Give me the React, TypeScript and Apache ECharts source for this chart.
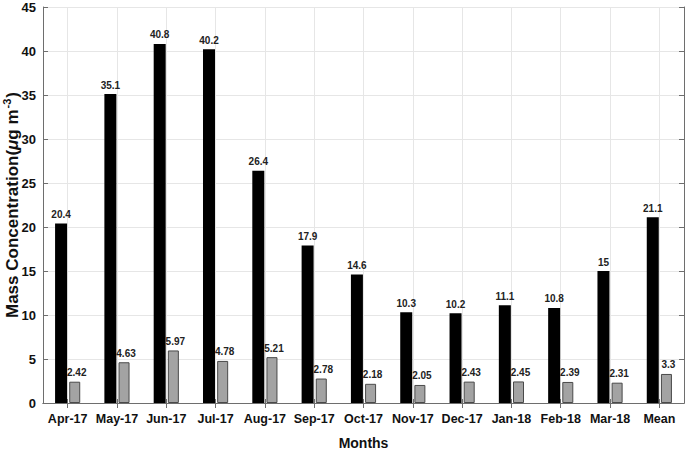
import React, { useEffect, useRef } from "react";
import * as echarts from "echarts";

const categories = ["Apr-17", "May-17", "Jun-17", "Jul-17", "Aug-17", "Sep-17", "Oct-17", "Nov-17", "Dec-17", "Jan-18", "Feb-18", "Mar-18", "Mean"];
const blackValues = [20.4, 35.1, 40.8, 40.2, 26.4, 17.9, 14.6, 10.3, 10.2, 11.1, 10.8, 15, 21.1];
const grayValues = [2.42, 4.63, 5.97, 4.78, 5.21, 2.78, 2.18, 2.05, 2.43, 2.45, 2.39, 2.31, 3.3];
const helperTicks = Array.from({ length: categories.length * 2 + 1 }, (_, i) => "h" + i);

const FONT = "'Liberation Sans Narrow', 'Liberation Sans', Arial, sans-serif";
const AXIS_COLOR = "#6e6e6e";
const GRID_COLOR = "#e6e6e6";

export default function App() {
  const ref = useRef<HTMLDivElement>(null);
  useEffect(() => {
    if (!ref.current) return;
    const chart = echarts.init(ref.current, undefined, { renderer: "svg" });
    const odd = (i: number) => i % 2 === 1;
    chart.setOption({
      animation: false,
      backgroundColor: "#fff",
      grid: { left: 43, right: 1, top: 7, bottom: 48, containLabel: false, outerBoundsMode: "none" },
      xAxis: [
        {
          type: "category",
          data: categories,
          position: "bottom",
          name: "Months",
          nameLocation: "middle",
          nameGap: 33,
          nameMoveOverlap: false,
          nameTextStyle: { fontFamily: FONT, fontWeight: "bold", fontSize: 14, color: "#111" },
          axisLine: { show: true, lineStyle: { color: AXIS_COLOR, width: 1 } },
          axisTick: { show: true, inside: true, alignWithLabel: true, length: 4, lineStyle: { color: AXIS_COLOR } },
          axisLabel: { interval: 0, fontFamily: FONT, fontWeight: "bold", fontSize: 12.5, color: "#111", margin: 9 },
          splitLine: { show: false },
        },
        {
          type: "category",
          data: helperTicks,
          position: "top",
          boundaryGap: false,
          axisLine: { show: true, lineStyle: { color: AXIS_COLOR, width: 1 } },
          axisTick: { show: true, inside: true, length: 5, interval: odd, lineStyle: { color: AXIS_COLOR } },
          axisLabel: { show: false },
          splitLine: { show: true, interval: odd, lineStyle: { color: GRID_COLOR, width: 1 } },
        },
      ],
      yAxis: [
        {
          type: "value",
          min: 0,
          max: 45,
          interval: 5,
          position: "left",
          name: "{a|Mass Concentration(}{i|μ}{a|g m}{s|-3}{a|)}",
          nameLocation: "middle",
          nameGap: 22,
          nameMoveOverlap: false,
          nameTextStyle: {
            rich: {
              a: { fontFamily: FONT, fontWeight: "bold", fontSize: 17, color: "#111", lineHeight: 20, verticalAlign: "bottom" },
              i: { fontFamily: FONT, fontWeight: "bold", fontStyle: "italic", fontSize: 17, color: "#111", lineHeight: 20, verticalAlign: "bottom" },
              s: { fontFamily: FONT, fontWeight: "bold", fontSize: 11, color: "#111", lineHeight: 20, verticalAlign: "top", padding: [0, 1, 7, 1] },
            },
          },
          axisLine: { show: true, lineStyle: { color: AXIS_COLOR, width: 1 } },
          axisTick: { show: true, inside: true, length: 5, lineStyle: { color: AXIS_COLOR } },
          axisLabel: { fontFamily: FONT, fontWeight: "bold", fontSize: 13, color: "#111", margin: 7 },
          splitLine: { show: true, lineStyle: { color: GRID_COLOR, width: 1 } },
        },
        {
          type: "value",
          min: 0,
          max: 45,
          interval: 5,
          position: "right",
          axisLine: { show: true, lineStyle: { color: AXIS_COLOR, width: 1 } },
          axisTick: { show: true, inside: true, length: 5, lineStyle: { color: AXIS_COLOR } },
          axisLabel: { show: false },
          splitLine: { show: false },
        },
      ],
      series: [
        {
          type: "bar",
          xAxisIndex: 0,
          yAxisIndex: 0,
          data: blackValues,
          barWidth: 12,
          barGap: "18%",
          itemStyle: { color: "#000", borderColor: "#000", borderWidth: 0 },
          label: {
            show: true,
            position: "top",
            distance: 4,
            fontFamily: FONT,
            fontWeight: "bold",
            fontSize: 10,
            color: "#222",
          },
        },
        {
          type: "bar",
          xAxisIndex: 0,
          yAxisIndex: 0,
          data: grayValues,
          barWidth: 11,
          itemStyle: { color: "#a3a3a3", borderColor: "#4a4a4a", borderWidth: 1 },
          label: {
            show: true,
            position: "top",
            distance: 4,
            offset: [2, 0],
            fontFamily: FONT,
            fontWeight: "bold",
            fontSize: 10,
            color: "#222",
          },
        },
      ],
    });
    return () => chart.dispose();
  }, []);
  return <div ref={ref} style={{ width: 685, height: 451, position: "absolute", left: 0, top: 0 }} />;
}
